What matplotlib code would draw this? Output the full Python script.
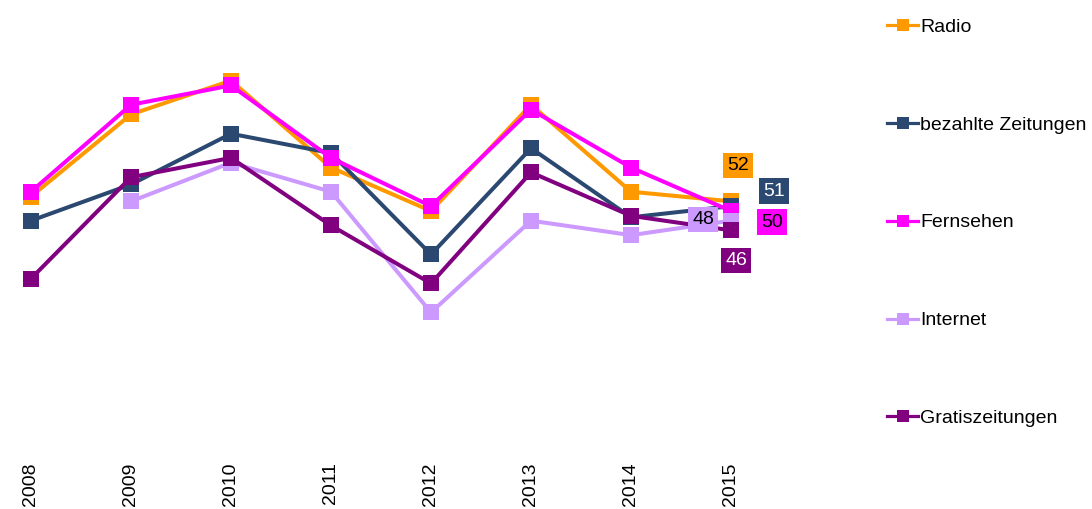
import numpy as np
import matplotlib.pyplot as plt
from matplotlib.lines import Line2D

plt.rcParams['font.family'] = ['Liberation Sans', 'DejaVu Sans']

# ---------------- Data ----------------
years = ['2008', '2009', '2010', '2011', '2012', '2013', '2014', '2015']
radio = [53, 70, 77, 59, 50, 72, 54, 52]
bezahlte_zeitungen = [48, 55.5, 66, 62, 41, 63, 48.7, 51]
fernsehen = [54, 72, 76, 61, 51, 71, 59, 50]
internet = [np.nan, 52, 60, 54, 29, 48, 45, 48]
gratiszeitungen = [36, 57, 61, 47, 35, 58, 49, 46]

series = [
    ('Radio', radio, '#FF9900', 'black', (7, 36)),
    ('bezahlte Zeitungen', bezahlte_zeitungen, '#2A4870', 'white', (43, 15)),
    ('Fernsehen', fernsehen, '#FF00FF', 'black', (41, -11)),
    ('Internet', internet, '#CC99FF', 'black', (-28, 1)),
    ('Gratiszeitungen', gratiszeitungen, '#800080', 'white', (5, -30)),
]

# ---------------- Plot ----------------
fig = plt.figure(figsize=(10.92, 5.09), dpi=100)
ax = fig.add_axes([0.0, 0.111, 0.7326, 0.854])

x = np.arange(len(years))
handles = []
for i, (name, vals, color, txt_color, offset) in enumerate(series):
    ax.plot(x, vals, color=color, lw=2.9, marker='s', ms=12.2,
            mew=0, zorder=2 + i, clip_on=False)
    handles.append(Line2D([], [], color=color, lw=2.3, marker='s',
                          ms=8, mew=0, label=name))
    # value label for the last year
    last = vals[-1]
    ax.annotate(f'{last:.0f}', xy=(x[-1], last), xytext=offset,
                textcoords='offset pixels', ha='center', va='center',
                fontsize=14, color=txt_color, zorder=10,
                bbox=dict(boxstyle='square,pad=0.22', fc=color, ec='none'))

ax.set_xlim(-0.31, 7.69)
ax.set_ylim(0, 90)
ax.set_xticks(x)
ax.set_xticklabels(years, rotation=90, fontsize=14)
ax.tick_params(axis='x', length=0, pad=7)
ax.set_yticks([])
for s in ax.spines.values():
    s.set_visible(False)

fig.legend(handles=handles, loc='upper left',
           bbox_to_anchor=(887 / 1092, 1 - 18 / 509),
           frameon=False, fontsize=14, handlelength=1.6,
           handletextpad=0.12, labelspacing=4.13, borderpad=0,
           borderaxespad=0)

fig.savefig('out.png', dpi=100)
plt.close(fig)
